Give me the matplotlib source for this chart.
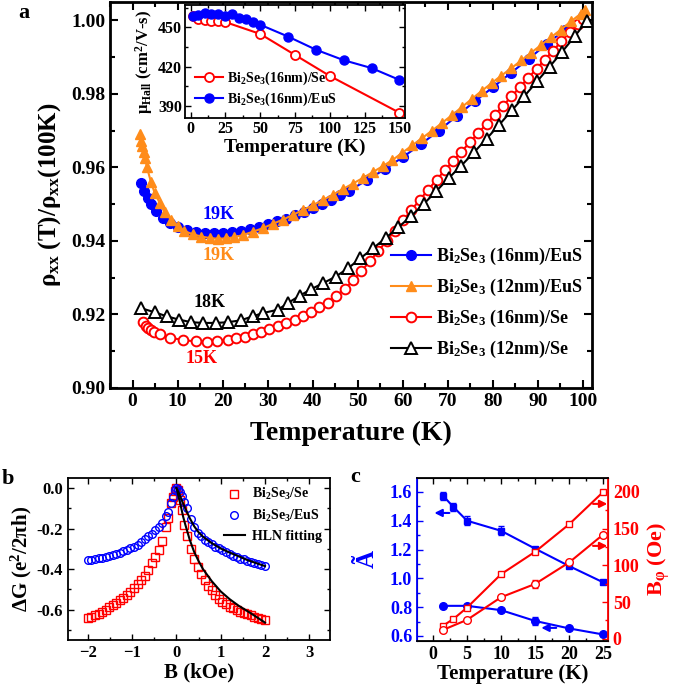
import matplotlib
matplotlib.use("Agg")
import matplotlib.pyplot as plt
from matplotlib.ticker import MultipleLocator
import numpy as np

plt.rcParams['font.family'] = ['Liberation Serif', 'DejaVu Serif']
plt.rcParams['font.weight'] = 'bold'
plt.rcParams['axes.labelweight'] = 'bold'
plt.rcParams['mathtext.fontset'] = 'custom'
plt.rcParams['mathtext.rm'] = 'Liberation Serif:bold'
plt.rcParams['mathtext.it'] = 'Liberation Serif:italic:bold'
plt.rcParams['mathtext.bf'] = 'Liberation Serif:bold'
plt.rcParams['xtick.direction'] = 'in'
plt.rcParams['ytick.direction'] = 'in'

BLUE = '#0000ff'
ORANGE = '#ff8c1a'
RED = '#ff0000'

# ---------------- panel a : normalised resistance ----------------
T_eus16 = [1.9, 2.6, 3.4, 4.2, 5.3, 6.8, 8.3, 10, 12, 14, 16, 18, 20, 22, 24, 26, 28, 30,
           32, 34, 36, 38, 40, 42, 44, 46, 48, 52, 56, 60, 64, 68, 72, 76, 80, 84, 88,
           92, 96, 100]
r_eus16 = [0.9558, 0.9535, 0.9518, 0.9500, 0.9481, 0.9462, 0.9448, 0.9438, 0.9430, 0.9425,
           0.9422, 0.9421, 0.9421, 0.9423, 0.9427, 0.9432, 0.9438, 0.9445, 0.9453, 0.9461,
           0.9470, 0.9480, 0.9490, 0.9501, 0.9512, 0.9524, 0.9536, 0.9565, 0.9595, 0.9628,
           0.9663, 0.9700, 0.9740, 0.9780, 0.9818, 0.9857, 0.9896, 0.9936, 0.9975, 1.0012]

T_eus12 = [1.6, 1.9, 2.2, 2.5, 2.8, 3.2, 4.1, 4.9, 6.0, 7.1, 8.6, 10.1, 11.5, 13.4, 15.3,
           17.1, 19.0, 20.8, 22.6, 24.5, 26.7, 29.0, 31.2, 33.4, 35.6, 37.8, 40.0, 42.2,
           44.5, 46.7, 48.9, 51.1, 53.3, 55.5, 57.7, 59.9, 62.1, 64.3, 66.5, 68.7, 70.9,
           73.1, 75.3, 77.5, 79.7, 81.9, 84.1, 86.3, 88.5, 90.7, 92.9, 95.1, 97.3, 99.5, 100.5]
r_eus12 = [0.9690, 0.9672, 0.9657, 0.9641, 0.9625, 0.9600, 0.9560, 0.9531, 0.9504, 0.9478,
           0.9458, 0.9441, 0.9427, 0.9418, 0.9412, 0.9408, 0.9406, 0.9407, 0.9410, 0.9416,
           0.9425, 0.9435, 0.9447, 0.9458, 0.9471, 0.9484, 0.9497, 0.9511, 0.9526, 0.9541,
           0.9556, 0.9571, 0.9587, 0.9603, 0.9620, 0.9640, 0.9660, 0.9680, 0.9700, 0.9721,
           0.9742, 0.9764, 0.9786, 0.9808, 0.9829, 0.9850, 0.9870, 0.9891, 0.9912, 0.9933,
           0.9954, 0.9975, 0.9997, 1.0018, 1.0028]

T_se16 = [2.3, 2.9, 3.5, 4.1, 4.7, 6.0, 8.4, 11.2, 14.0, 16.5, 18.7, 21.2, 23.0, 24.9, 26.7,
          28.6, 30.4, 32.3, 34.1, 36.0, 37.8, 39.6, 41.5, 43.3, 45.2, 47.1, 49.0, 50.8, 52.7,
          54.5, 56.4, 58.2, 60.1, 61.9, 63.8, 65.6, 67.5, 69.3, 71.2, 73.0, 74.9, 76.7, 78.6,
          80.4, 82.3, 84.1, 86.0, 87.8, 89.7, 91.5, 93.4, 95.2, 97.1, 98.9, 100.0]
r_se16 = [0.9180, 0.9168, 0.9162, 0.9157, 0.9153, 0.9146, 0.9137, 0.9130, 0.9127, 0.9126,
          0.9128, 0.9131, 0.9135, 0.9140, 0.9146, 0.9153, 0.9160, 0.9168, 0.9177, 0.9186,
          0.9196, 0.9207, 0.9219, 0.9232, 0.9251, 0.9269, 0.9293, 0.9318, 0.9345, 0.9372,
          0.9400, 0.9428, 0.9456, 0.9484, 0.9512, 0.9539, 0.9566, 0.9592, 0.9618, 0.9643,
          0.9668, 0.9693, 0.9718, 0.9743, 0.9768, 0.9793, 0.9818, 0.9843, 0.9868, 0.9893,
          0.9918, 0.9943, 0.9968, 0.9990, 1.0005]

T_se12 = [1.9, 4.9, 7.6, 10.3, 13.0, 15.6, 18.6, 21.2, 24.0, 26.7, 29.0, 32.3, 34.5, 37.1,
          39.7, 42.3, 45.1, 47.9, 50.6, 53.4, 56.2, 59.0, 61.8, 64.6, 67.4, 70.2, 73.0, 75.8,
          78.6, 81.4, 84.2, 87.0, 89.8, 92.6, 95.4, 98.2, 100.8]
r_se12 = [0.9217, 0.9206, 0.9195, 0.9186, 0.9179, 0.9177, 0.9177, 0.9179, 0.9184, 0.9195,
          0.9204, 0.9213, 0.9231, 0.9251, 0.9269, 0.9285, 0.9303, 0.9326, 0.9353, 0.9380,
          0.9408, 0.9437, 0.9467, 0.9500, 0.9535, 0.9571, 0.9605, 0.9641, 0.9678, 0.9716,
          0.9755, 0.9794, 0.9834, 0.9874, 0.9915, 0.9957, 0.9998]

# inset : Hall mobility
T_hall_se = [2, 5, 10, 15, 20, 25, 50, 75, 100, 150]
mu_hall_se = [459, 456, 455.5, 455, 455, 454, 445, 429, 413, 385]
T_hall_eus = [2, 5, 10, 15, 20, 25, 30, 35, 40, 45, 50, 70, 90, 110, 130, 150]
mu_hall_eus = [459, 459.5, 461, 460, 460, 459, 460, 457, 456.5, 454, 452, 443, 433, 425, 419, 410]

# ---------------- panel b : magnetoconductance ----------------
B_field = [-2.0, -1.92, -1.84, -1.76, -1.68, -1.6, -1.52, -1.44, -1.36, -1.28, -1.2, -1.12,
           -1.04, -0.96, -0.88, -0.8, -0.72, -0.64, -0.56, -0.48, -0.40, -0.32, -0.24, -0.18,
           -0.12, -0.08, -0.04, 0.0, 0.04, 0.08, 0.12, 0.18, 0.24, 0.32, 0.40, 0.48, 0.56,
           0.64, 0.72, 0.80, 0.88, 0.96, 1.04, 1.12, 1.20, 1.28, 1.36, 1.44, 1.52, 1.60,
           1.68, 1.76, 1.84, 1.92, 2.0]
dG_se = [-0.640, -0.635, -0.628, -0.620, -0.610, -0.600, -0.588, -0.576, -0.565, -0.553,
         -0.541, -0.528, -0.515, -0.495, -0.475, -0.455, -0.432, -0.405, -0.372, -0.340,
         -0.305, -0.262, -0.190, -0.145, -0.075, -0.045, -0.012, 0.0, -0.010, -0.060,
         -0.110, -0.180, -0.235, -0.300, -0.350, -0.390, -0.425, -0.455, -0.482, -0.505,
         -0.527, -0.546, -0.560, -0.573, -0.585, -0.594, -0.602, -0.610, -0.617, -0.623,
         -0.628, -0.634, -0.640, -0.645, -0.650]
dG_eus = [-0.357, -0.354, -0.351, -0.347, -0.343, -0.338, -0.334, -0.330, -0.324, -0.318,
          -0.311, -0.304, -0.297, -0.289, -0.279, -0.268, -0.252, -0.237, -0.224, -0.208,
          -0.190, -0.172, -0.140, -0.118, -0.075, -0.045, -0.010, 0.0, -0.005, -0.020,
          -0.040, -0.070, -0.100, -0.150, -0.190, -0.222, -0.238, -0.254, -0.265, -0.277,
          -0.290, -0.298, -0.306, -0.316, -0.325, -0.334, -0.342, -0.348, -0.352, -0.358,
          -0.364, -0.368, -0.374, -0.380, -0.385]
B_fit = [0.0, 0.02, 0.05, 0.1, 0.15, 0.2, 0.3, 0.4, 0.5, 0.6, 0.8, 1.0, 1.2, 1.4, 1.6, 1.8, 2.0]
fit_se = [0.0, -0.015, -0.045, -0.090, -0.140, -0.180, -0.255, -0.315, -0.360, -0.400,
          -0.460, -0.510, -0.548, -0.580, -0.607, -0.635, -0.664]
fit_eus = [0.0, -0.008, -0.022, -0.048, -0.075, -0.100, -0.148, -0.188, -0.218, -0.240,
           -0.272, -0.298, -0.318, -0.336, -0.355, -0.370, -0.385]

# ---------------- panel c : fit parameters ----------------
T_A_se = [1.5, 3, 5, 10, 15, 20, 25]
A_se = [1.572, 1.495, 1.40, 1.33, 1.206, 1.085, 0.972]
A_se_err = [0.03, 0.03, 0.03, 0.03, 0.01, 0.01, 0.01]
T_A_eus = [1.5, 5, 10, 15, 20, 25]
A_eus = [0.809, 0.809, 0.779, 0.704, 0.652, 0.610]
A_eus_err = [0.01, 0.01, 0.01, 0.025, 0.01, 0.01]
T_Bphi_se = [1.5, 3, 5, 10, 15, 20, 25]
Bphi_se = [18, 27, 42.5, 88, 118.5, 156, 200]
T_Bphi_eus = [1.5, 5, 10, 15, 20, 25]
Bphi_eus = [12.2, 25.8, 56.6, 74.7, 104, 142]
Bphi_eus_err = [1, 1, 2, 5, 2, 2]

fig = plt.figure(figsize=(6.85, 6.89), dpi=100)

# main panel a
ax = fig.add_axes([0.1606, 0.4369, 0.7036, 0.5602])
ax.plot(T_eus16, r_eus16, '-o', color=BLUE, ms=7, lw=1.5, label='Bi$_2$Se$_3$ (16nm)/EuS', zorder=3)
ax.plot(T_eus12, r_eus12, '-^', color=ORANGE, ms=7.5, lw=1.5, label='Bi$_2$Se$_3$ (12nm)/EuS', zorder=4)
ax.plot(T_se16, r_se16, '-o', color=RED, mfc='white', mec=RED, mew=1.4, ms=7, lw=1.5,
        label='Bi$_2$Se$_3$ (16nm)/Se', zorder=3)
ax.plot(T_se12, r_se12, '-^', color='black', mfc='white', mec='black', mew=1.4, ms=8, lw=1.5,
        label='Bi$_2$Se$_3$ (12nm)/Se', zorder=4)
ax.set_xlim(-5, 102)
ax.set_ylim(0.90, 1.005)
ax.xaxis.set_major_locator(MultipleLocator(10))
ax.xaxis.set_minor_locator(MultipleLocator(5))
ax.yaxis.set_major_locator(MultipleLocator(0.02))
ax.yaxis.set_minor_locator(MultipleLocator(0.01))
ax.yaxis.set_major_formatter(plt.FormatStrFormatter('%.2f'))
ax.tick_params(which='both', top=True, right=True, width=1.5, labelsize=14)
ax.tick_params(which='major', length=6)
ax.tick_params(which='minor', length=3.5)
for s in ax.spines.values():
    s.set_linewidth(2)
ax.set_xlabel('Temperature (K)', fontsize=20, labelpad=8)
ax.set_ylabel(r'ρ$_{\mathrm{xx}}$ (T)/ρ$_{\mathrm{xx}}$(100K)', fontsize=18, labelpad=6)
ax.legend(loc='lower right', bbox_to_anchor=(1.015, 0.03), frameon=False, fontsize=13,
          handlelength=2.2, handletextpad=0.3, labelspacing=0.55)
ax.text(19, 0.9473, '19K', color=BLUE, fontsize=13, ha='center', va='center')
ax.text(19, 0.9360, '19K', color=ORANGE, fontsize=13, ha='center', va='center')
ax.text(17, 0.9232, '18K', color='black', fontsize=13, ha='center', va='center')
ax.text(15.3, 0.9081, '15K', color=RED, fontsize=13, ha='center', va='center')
fig.text(0.035, 0.981, 'a', fontsize=16, ha='center', va='center')

# inset
ins = fig.add_axes([0.2701, 0.8287, 0.3212, 0.164])
ins.plot(T_hall_se, mu_hall_se, '-o', color=RED, mfc='white', mec=RED, mew=1.3, ms=6.5, lw=1.5,
         label='Bi$_2$Se$_3$(16nm)/Se')
ins.plot(T_hall_eus, mu_hall_eus, '-o', color=BLUE, ms=6.5, lw=1.5, label='Bi$_2$Se$_3$(16nm)/EuS')
ins.set_xlim(-4, 154)
ins.set_ylim(381, 467)
ins.xaxis.set_major_locator(MultipleLocator(25))
ins.xaxis.set_minor_locator(MultipleLocator(12.5))
ins.yaxis.set_major_locator(MultipleLocator(30))
ins.yaxis.set_minor_locator(MultipleLocator(15))
ins.tick_params(which='both', top=True, right=True, width=1, labelsize=11.5, pad=2)
ins.tick_params(which='major', length=4)
ins.tick_params(which='minor', length=2)
for s in ins.spines.values():
    s.set_linewidth(1.3)
ins.set_xlabel('Temperature (K)', fontsize=14, labelpad=1)
ins.set_ylabel(r'μ$_{\mathrm{Hall}}$ (cm$^{\mathrm{2}}$/V-s)', fontsize=12, labelpad=2)
ins.legend(loc='lower left', frameon=False, fontsize=10, handlelength=2.0,
           handletextpad=0.3, labelspacing=0.3, borderaxespad=0.3)

# panel b
axb = fig.add_axes([0.0993, 0.0711, 0.3825, 0.2351])
axb.plot(B_field, dG_se, 's', color=RED, mfc='none', mec=RED, mew=1.0, ms=5.5, label='Bi$_2$Se$_3$/Se')
axb.plot(B_field, dG_eus, 'o', color=BLUE, mfc='none', mec=BLUE, mew=1.0, ms=5.5, label='Bi$_2$Se$_3$/EuS')
axb.plot(B_fit, fit_se, '-', color='black', lw=1.5, label='HLN fitting')
axb.plot(B_fit, fit_eus, '-', color='black', lw=1.5)
axb.set_xlim(-2.45, 3.47)
axb.set_ylim(-0.75, 0.05)
axb.xaxis.set_major_locator(MultipleLocator(1))
axb.xaxis.set_minor_locator(MultipleLocator(0.5))
axb.yaxis.set_major_locator(MultipleLocator(0.2))
axb.yaxis.set_minor_locator(MultipleLocator(0.1))
axb.yaxis.set_major_formatter(plt.FormatStrFormatter('%.1f'))
axb.tick_params(which='both', top=True, right=True, width=1, labelsize=12)
axb.tick_params(which='major', length=4)
axb.tick_params(which='minor', length=2)
for s in axb.spines.values():
    s.set_linewidth(1.3)
axb.set_xlabel('B (kOe)', fontsize=15, labelpad=1)
axb.set_ylabel('ΔG (e$^{\mathrm{2}}$/2πh)', fontsize=15, labelpad=2)
axb.legend(loc='upper right', frameon=False, fontsize=10, handlelength=1.5,
           handletextpad=0.5, labelspacing=0.4, borderaxespad=0.2)
fig.text(0.011, 0.305, 'b', fontsize=16, ha='center', va='center')

# panel c
axc = fig.add_axes([0.6088, 0.0697, 0.2788, 0.2366])
axc.errorbar(T_A_se, A_se, yerr=A_se_err, fmt='-s', color=BLUE, ms=5, lw=1.5, capsize=2, elinewidth=1)
axc.errorbar(T_A_eus, A_eus, yerr=A_eus_err, fmt='-o', color=BLUE, ms=5.5, lw=1.5, capsize=2, elinewidth=1)
axc.set_xlim(-2.35, 25.7)
axc.set_ylim(0.565, 1.697)
axc.xaxis.set_major_locator(MultipleLocator(5))
axc.xaxis.set_minor_locator(MultipleLocator(2.5))
axc.yaxis.set_major_locator(MultipleLocator(0.2))
axc.yaxis.set_minor_locator(MultipleLocator(0.1))
axc.yaxis.set_major_formatter(plt.FormatStrFormatter('%.1f'))
axc.tick_params(which='both', top=True, width=1, labelsize=13)
axc.tick_params(axis='y', which='both', colors=BLUE)
axc.tick_params(which='major', length=4)
axc.tick_params(which='minor', length=2)
axc.set_xlabel('Temperature (K)', fontsize=15, labelpad=1)
axc.set_ylabel('Ã', fontsize=18, color=BLUE, labelpad=8)
arrow_kw = dict(arrowstyle='-|>', lw=1.5, mutation_scale=11, shrinkA=0, shrinkB=0)
axc.annotate('', xy=(0.2, 1.454), xytext=(2.4, 1.454), arrowprops=dict(color=BLUE, **arrow_kw))
axc.annotate('', xy=(15.9, 0.656), xytext=(18.1, 0.656), arrowprops=dict(color=BLUE, **arrow_kw))

axr = axc.twinx()
axr.plot(T_Bphi_se, Bphi_se, '-s', color=RED, mfc='white', mec=RED, mew=1.0, ms=5, lw=1.5)
axr.errorbar(T_Bphi_eus, Bphi_eus, yerr=Bphi_eus_err, fmt='-o', color=RED, mfc='white', mec=RED,
             mew=1.0, ms=5.5, lw=1.5, capsize=2, elinewidth=1)
axr.set_ylim(-3, 219)
axr.yaxis.set_major_locator(MultipleLocator(50))
axr.yaxis.set_minor_locator(MultipleLocator(25))
axr.tick_params(which='both', width=1, labelsize=13, colors=RED)
axr.tick_params(which='major', length=4)
axr.tick_params(which='minor', length=2)
axr.set_ylabel(r'B$_{\mathrm{φ}}$ (Oe)', fontsize=16, color=RED, labelpad=4)
axr.annotate('', xy=(25.6, 183.7), xytext=(23.5, 183.7), arrowprops=dict(color=RED, **arrow_kw))
axr.annotate('', xy=(25.6, 126.5), xytext=(23.5, 126.5), arrowprops=dict(color=RED, **arrow_kw))
for s in axr.spines.values():
    s.set_linewidth(1.3)
axr.spines['left'].set_color(BLUE)
axr.spines['right'].set_color(RED)
fig.text(0.519, 0.308, 'c', fontsize=16, ha='center', va='center')

fig.savefig('out.png', dpi=100)
